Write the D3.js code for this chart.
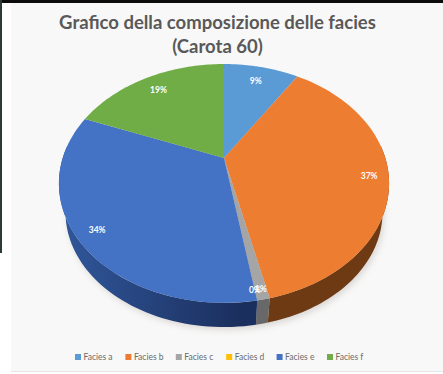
<!DOCTYPE html>
<html>
<head>
<meta charset="utf-8">
<script src="https://cdn.jsdelivr.net/npm/d3@7"></script>
<style>
html,body{margin:0;padding:0;background:#fff;}
svg{display:block;}
text{font-family:"Lato","Open Sans",sans-serif;}
</style>
</head>
<body>
<script>
const title = ["Grafico della composizione delle facies", "(Carota 60)"];
const categories = ["Facies a", "Facies b", "Facies c", "Facies d", "Facies e", "Facies f"];
const shares = [9, 37.4, 1, 0, 33.6, 19];
const colors = ["#5b9bd5", "#ed7d31", "#a5a5a5", "#ffc000", "#4472c4", "#70ad47"];
const sideColors = ["#325a80", "#6e3a13", "#686868", "#8a6a00", "url(#wallBlue)", "#3d6427"];

const width = 443, height = 374;
const svg = d3.select("body").append("svg").attr("width", width).attr("height", height);

const defs = svg.append("defs");
defs.append("filter").attr("id", "soft").attr("x", "-10%").attr("y", "-10%").attr("width", "120%").attr("height", "120%")
  .append("feGaussianBlur").attr("stdDeviation", 3);
const wallBlue = defs.append("linearGradient").attr("id", "wallBlue")
  .attr("gradientUnits", "userSpaceOnUse").attr("x1", 70).attr("x2", 240).attr("y1", 0).attr("y2", 0);
wallBlue.append("stop").attr("offset", 0).attr("stop-color", "#2f5597");
wallBlue.append("stop").attr("offset", 1).attr("stop-color", "#1b2f5e");

// Page background and the dark edges around the chart panel
svg.append("rect").attr("width", width).attr("height", height).attr("fill", "#ffffff");
svg.append("rect").attr("x", 11).attr("y", 3).attr("width", width - 11).attr("height", 368).attr("fill", "#f8f8f8");
svg.append("rect").attr("x", 11).attr("y", 371).attr("width", width - 11).attr("height", 1).attr("fill", "#e6e6e6");
svg.append("rect").attr("width", width).attr("height", 3).attr("fill", "#0c0c0c");
svg.append("rect").attr("width", 2).attr("height", 253).attr("fill", "#2c3a3a");

// Perspective projection of the tilted disc: angle 0 is the far side, clockwise
const apex = {x: 224, y: 158};
const persp = 0.213, spanX = 161.3, spanY = 114, wallDepth = 30, baseShrink = 0.96;
function project(angle, drop, shrink) {
  const X = Math.sin(angle), Y = Math.cos(angle), w = 1 + persp * Y;
  return [apex.x + shrink * spanX * X / w, apex.y + drop - shrink * spanY * Y / w];
}
const pts = (a0, a1, drop, shrink) => d3.range(0, 61).map(i => project(a0 + (a1 - a0) * i / 60, drop, shrink));
const line = d3.line();

const pie = d3.pie().value(d => d).sort(null);
const slices = pie(shares).map((s, i) => ({...s, i}));

const discBottom = d3.line().curve(d3.curveLinearClosed)(pts(0, 2 * Math.PI, wallDepth, baseShrink));
svg.append("path").attr("d", discBottom).attr("fill", "#bdb8b2").attr("opacity", 0.5)
  .attr("transform", "translate(2,3)").attr("filter", "url(#soft)");

// Side walls, only along the near half of the rim
slices.forEach(s => {
  const a0 = Math.max(s.startAngle, Math.PI / 2 - 0.1), a1 = Math.min(s.endAngle, 3 * Math.PI / 2 + 0.1);
  if (a1 <= a0) return;
  const ring = pts(a0, a1, 0, 1).concat(pts(a0, a1, wallDepth, baseShrink).reverse());
  svg.append("path").attr("d", line(ring) + "Z").attr("fill", sideColors[s.i]);
});

// Top face
slices.filter(s => s.endAngle > s.startAngle).forEach(s => {
  const path = [[apex.x, apex.y]].concat(pts(s.startAngle, s.endAngle, 0, 1));
  svg.append("path").attr("d", line(path) + "Z").attr("fill", colors[s.i]);
});

// Percentage labels placed towards the rim of each slice
const labelRadius = [0.85, 0.88, 0.93, 0.93, 0.875, 0.85];
slices.forEach(s => {
  const mid = (s.startAngle + s.endAngle) / 2;
  const p = project(mid, 0, labelRadius[s.i]);
  svg.append("text").attr("x", p[0]).attr("y", p[1]).attr("dy", "0.35em").attr("text-anchor", "middle")
    .attr("font-size", 8.5).attr("font-weight", 700).attr("fill", "#ffffff").text(d3.format(".0f")(s.value) + "%");
});

svg.append("g").selectAll("text").data(title).join("text")
  .attr("x", 217.5).attr("y", (d, i) => 29 + i * 24).attr("text-anchor", "middle")
  .attr("font-size", 18.5).attr("font-weight", 700).attr("fill", "#595959").text(d => d);

// Legend row
const legendX = d3.scalePoint().domain(categories).range([75, 327]);
const legend = svg.append("g").selectAll("g").data(categories).join("g")
  .attr("transform", d => `translate(${legendX(d)},357)`);
legend.append("rect").attr("y", -3).attr("width", 6).attr("height", 6).attr("fill", (d, i) => colors[i]);
legend.append("text").attr("x", 8.5).attr("dy", "0.35em").attr("font-size", 8.5).attr("fill", "#6a6a6a").text(d => d);
</script>
</body>
</html>
